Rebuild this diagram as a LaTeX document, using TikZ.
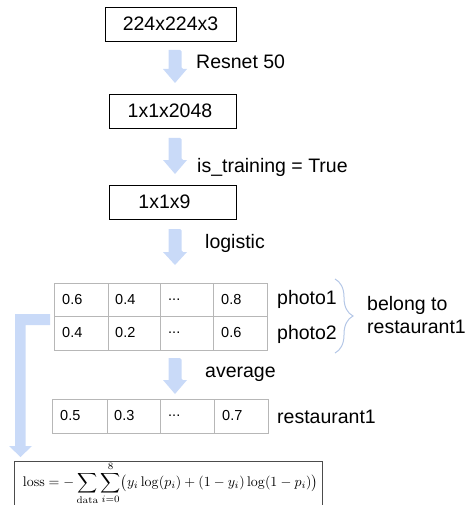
\documentclass[tikz,border=0pt]{standalone}
\usepackage{amsmath}
\usepackage[no-math]{fontspec}
\setmainfont{Liberation Sans}
\usetikzlibrary{decorations.pathreplacing}
\definecolor{arrowblue}{HTML}{C9DAF8}
\definecolor{bracecol}{HTML}{B4C7E7}
\definecolor{gridgray}{HTML}{B7B7B7}
\newcommand{\fatdown}[4]{% x, top, headstart, tip
  \fill[arrowblue,rounded corners=1.5pt] (#1-6.5,#2) -- (#1+6.5,#2) -- (#1+6.5,#3) [sharp corners] -- (#1+12,#3) -- (#1,#4) -- (#1-12,#3) -- (#1-6.5,#3) -- cycle;}
\begin{document}
\begin{tikzpicture}[x=1pt,y=-1pt,
  box/.style={draw=black,line width=0.8pt,minimum width=#1,minimum height=34pt,inner sep=0pt,font=\fontsize{19.5}{22}\selectfont},
  lbl/.style={anchor=west,inner sep=0pt,font=\fontsize{19.5}{22}\selectfont},
  cell/.style={anchor=west,inner sep=0pt,font=\fontsize{14.5}{16}\selectfont},
  grid/.style={draw=gridgray,line width=0.8pt}]
\useasboundingbox (0,0) rectangle (465,505);
\clip (0,0) rectangle (465,505);
% boxes
\node[box=131pt] (b1) at (170.5,24) {224x224x3};
\node[box=127pt] (b2) at (172.5,111) {\hspace*{-5pt}1x1x2048};
\node[box=127pt] (b3) at (172.5,202) {\hspace*{-16pt}1x1x9};
% fat arrows
\fatdown{175}{50}{69}{83}
\fatdown{175}{138}{160}{174}
\fatdown{175}{229}{252}{265}
\fatdown{175}{358}{380}{394}
% arrow labels
\node[lbl] (l1) at (196,62) {Resnet 50};
\node[lbl] (l2) at (197,167) {is\_training = True};
\node[lbl] (l3) at (205,243) {logistic};
\node[lbl] (l4) at (205,374) {average};
% table 1
\draw[grid] (54,283) rectangle (267,350);
\draw[grid] (54,316) -- (267,316);
\foreach \xx in {108,160,213} \draw[grid] (\xx,283) -- (\xx,350);
\node[cell] (c11) at (62,300) {0.6};
\node[cell] (c12) at (115,300) {0.4};
\node[cell] (c13) at (168,300) {...};
\node[cell] (c14) at (221,300) {0.8};
\node[cell] (c21) at (62,333) {0.4};
\node[cell] (c22) at (115,333) {0.2};
\node[cell] (c23) at (168,333) {...};
\node[cell] (c24) at (221,333) {0.6};
\node[lbl] (p1) at (277,299) {photo1};
\node[lbl] (p2) at (277,334) {photo2};
\draw[bracecol,line width=1pt,decorate,decoration={brace,amplitude=18pt,aspect=0.5}] (335,279) -- (335,353);
\node[lbl,align=left,font=\fontsize{19.5}{23.5}\selectfont] (bel) at (367,315) {belong to\\restaurant1};
% table 2
\draw[grid] (52,399) rectangle (268,433);
\foreach \xx in {107,160,214} \draw[grid] (\xx,399) -- (\xx,433);
\node[cell] (d1) at (60,416) {0.5};
\node[cell] (d2) at (114,416) {0.3};
\node[cell] (d3) at (168,416) {...};
\node[cell] (d4) at (222,416) {0.7};
\node[lbl] (r1) at (277,417) {restaurant1};
% L arrow
\fill[arrowblue] (50,314) -- (50,325) -- (25.5,325) -- (25.5,446) -- (32,446) -- (20.5,457) -- (9,446) -- (15,446) -- (15,314) -- cycle;
% formula box
\draw[draw=black!70,line width=0.8pt] (14,520) -- (14,461) -- (322,461) -- (322,520);
\node[inner sep=0pt] (f) at (170.5,483) {\resizebox{295pt}{!}{$\displaystyle \mathrm{loss}=-\sum_{\mathrm{data}}\sum_{i=0}^{8}\bigl(y_i\log(p_i)+(1-y_i)\log(1-p_i)\bigr)$}};
\end{tikzpicture}
\end{document}
